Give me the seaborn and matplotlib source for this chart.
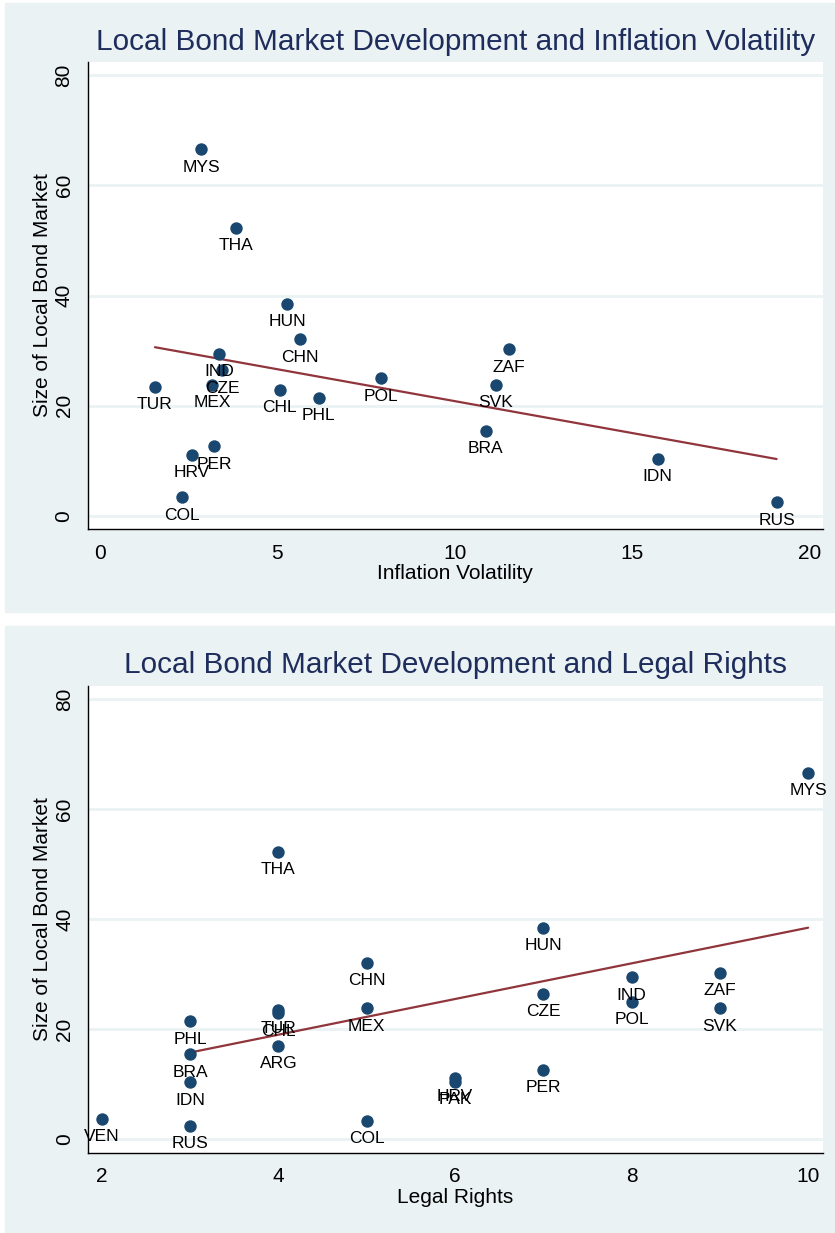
import numpy as np
import pandas as pd
import matplotlib
matplotlib.use("Agg")
import matplotlib.pyplot as plt
from matplotlib.patches import Rectangle
import seaborn as sns

# data
countries = ['MYS', 'THA', 'HUN', 'CHN', 'IND', 'CZE', 'MEX', 'TUR', 'CHL', 'PHL', 'POL',
             'ZAF', 'SVK', 'BRA', 'IDN', 'RUS', 'PER', 'HRV', 'COL', 'VEN', 'ARG', 'PAK']
bond_size = [66.6, 52.3, 38.5, 32.1, 29.5, 26.5, 23.8, 23.5, 22.9, 21.5, 25.0,
             30.3, 23.8, 15.5, 10.4, 2.5, 12.7, 11.1, 3.4, 3.8, 17.0, 10.5]
infl_vol = [2.85, 3.83, 5.27, 5.63, 3.36, 3.44, 3.16, 1.55, 5.07, 6.16, 7.92,
            11.52, 11.15, 10.87, 15.72, 19.07, 3.21, 2.60, 2.30, np.nan, np.nan, np.nan]
legal_rights = [10, 4, 7, 5, 8, 7, 5, 4, 4, 3, 8, 9, 9, 3, 3, 3, 7, 6, 5, 2, 4, 6]

df = pd.DataFrame({"country": countries, "size": bond_size,
                   "infl": infl_vol, "legal": legal_rights})
# fitted lines use the common sample (countries with inflation data)
df_fit = df.dropna()

navy = "#1A476F"
maroon = "#90353B"
bg = "#EAF2F3"
title_col = "#1E2D5C"

sns.set_style("white")
plt.rcParams['font.family'] = ['Liberation Sans', 'DejaVu Sans']

W, H = 835, 1233
fig = plt.figure(figsize=(W / 100, H / 100), dpi=100)
fig.patch.set_facecolor("white")

def px_rect(l, t, r, b):
    return [l / W, 1 - b / H, (r - l) / W, (b - t) / H]

# panel backgrounds
for (t, b) in [(3, 612), (626, 1233)]:
    fig.patches.append(Rectangle((5 / W, 1 - b / H), (W - 5) / W, (b - t) / H,
                                 transform=fig.transFigure, color=bg, zorder=-5))

panels = [
    dict(rect=px_rect(87.5, 61.7, 822.7, 529.3), x="infl", xlim=(-0.352, 20.37),
         xticks=[0, 5, 10, 15, 20], xlabel="Inflation Volatility",
         title="Local Bond Market Development and Inflation Volatility", tx=456, ty=42),
    dict(rect=px_rect(88, 685.7, 822.7, 1152.7), x="legal", xlim=(1.845, 10.165),
         xticks=[2, 4, 6, 8, 10], xlabel="Legal Rights",
         title="Local Bond Market Development and Legal Rights", tx=456, ty=665),
]

for p in panels:
    ax = fig.add_axes(p["rect"])
    ax.set_zorder(1)
    ax.set_facecolor("white")
    d = df.dropna(subset=[p["x"]])
    ax.yaxis.grid(True, color=bg, lw=2)
    ax.set_axisbelow(True)
    sns.regplot(data=df_fit, x=p["x"], y="size", scatter=False, ci=None, ax=ax,
                line_kws=dict(color=maroon, lw=1.6))
    sns.scatterplot(data=d, x=p["x"], y="size", ax=ax, color=navy, s=80,
                    edgecolor=navy, linewidth=0, zorder=3)
    for _, r in d.iterrows():
        ax.annotate(r["country"], (r[p["x"]], r["size"]), xytext=(0, -13),
                    textcoords="offset points", ha="center", va="center",
                    fontsize=12.5, color="black", zorder=4)
    ax.set_xlim(*p["xlim"])
    ax.set_ylim(-2.4, 82.45)
    ax.set_xticks(p["xticks"])
    ax.set_yticks([0, 20, 40, 60, 80])
    ax.tick_params(axis="both", direction="out", length=6, width=0.8,
                   labelsize=15, colors="black")
    ax.tick_params(axis="x", pad=4.5)
    ax.tick_params(axis="y", pad=4)
    for lab in ax.get_yticklabels():
        lab.set_rotation(90)
        lab.set_va("center")
    ax.set_xlabel(p["xlabel"], fontsize=15, labelpad=1, color="black")
    ax.set_ylabel("Size of Local Bond Market", fontsize=15, labelpad=2, color="black")
    for s in ["top", "right"]:
        ax.spines[s].set_visible(False)
    for s in ["left", "bottom"]:
        ax.spines[s].set_color("black")
        ax.spines[s].set_linewidth(1.0)
    fig.text(p["tx"] / W, 1 - p["ty"] / H, p["title"], ha="center", va="center",
             fontsize=21.4, color=title_col)

fig.savefig("out.png", dpi=100)
